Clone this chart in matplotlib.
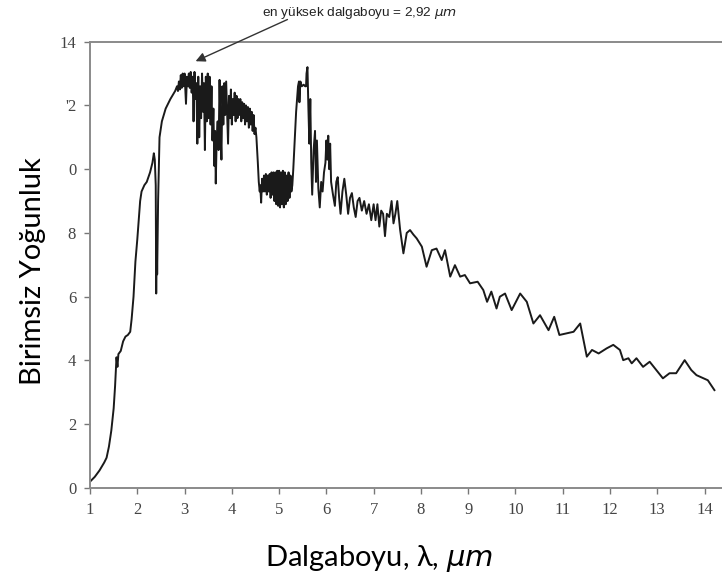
import matplotlib.pyplot as plt

# wavelength (um) and relative intensity
wavelength = [
    1.00, 1.10, 1.20, 1.30, 1.35, 1.40, 1.45, 1.50, 1.53, 1.56, 1.58, 1.60, 1.65, 1.70,
    1.75, 1.80, 1.85, 1.88, 1.92, 1.96, 2.00, 2.03, 2.06, 2.09, 2.15, 2.20, 2.27, 2.32,
    2.35, 2.37, 2.39, 2.40, 2.41, 2.42, 2.44, 2.47, 2.52, 2.60, 2.70, 2.80, 2.84, 2.86,
    2.88, 2.90, 2.92, 2.94, 2.96, 2.98, 3.00, 3.02, 3.03, 3.05, 3.07, 3.09, 3.11, 3.13,
    3.15, 3.17, 3.19, 3.21, 3.23, 3.25, 3.27, 3.29, 3.31, 3.33, 3.35, 3.37, 3.39, 3.41,
    3.43, 3.45, 3.47, 3.49, 3.51, 3.53, 3.55, 3.57, 3.59, 3.61, 3.63, 3.645, 3.66, 3.68,
    3.70, 3.72, 3.74, 3.76, 3.78, 3.80, 3.82, 3.84, 3.86, 3.88, 3.90, 3.92, 3.94, 3.96,
    3.98, 4.00, 4.02, 4.04, 4.06, 4.08, 4.10, 4.12, 4.14, 4.16, 4.18, 4.20, 4.22, 4.24,
    4.26, 4.28, 4.30, 4.32, 4.34, 4.36, 4.38, 4.40, 4.42, 4.44, 4.46, 4.48, 4.50, 4.52,
    4.55, 4.57, 4.59, 4.60, 4.62, 4.64, 4.66, 4.68, 4.70, 4.72, 4.74, 4.76, 4.78, 4.80,
    4.82, 4.84, 4.86, 4.88, 4.90, 4.92, 4.94, 4.96, 4.98, 5.00, 5.02, 5.04, 5.06, 5.08,
    5.10, 5.12, 5.14, 5.16, 5.18, 5.20, 5.22, 5.24, 5.26, 5.28, 5.30, 5.33, 5.36, 5.40,
    5.42, 5.43, 5.45, 5.48, 5.52, 5.55, 5.57, 5.58, 5.60, 5.62, 5.64, 5.66, 5.68, 5.70,
    5.73, 5.76, 5.78, 5.80, 5.83, 5.86, 5.89, 5.92, 5.95, 5.98, 6.00, 6.02, 6.04, 6.06,
    6.08, 6.10, 6.14, 6.18, 6.21, 6.24, 6.27, 6.30, 6.34, 6.38, 6.42, 6.46, 6.50, 6.54,
    6.58, 6.62, 6.66, 6.70, 6.75, 6.80, 6.85, 6.90, 6.95, 7.00, 7.04, 7.08, 7.12, 7.16,
    7.20, 7.24, 7.28, 7.33, 7.38, 7.42, 7.46, 7.50, 7.56, 7.63, 7.70, 7.77, 7.84, 7.91,
    8.02, 8.12, 8.23, 8.33, 8.44, 8.51, 8.62, 8.72, 8.83, 8.93, 9.04, 9.20, 9.32, 9.40,
    9.49, 9.60, 9.67, 9.78, 9.92, 10.10, 10.24, 10.38, 10.52, 10.70, 10.82, 10.93, 11.23,
    11.37, 11.51, 11.62, 11.76, 11.93, 12.07, 12.21, 12.28, 12.39, 12.46, 12.56, 12.70,
    12.84, 13.12, 13.26, 13.40, 13.58, 13.72, 13.83, 14.07, 14.21,
]
intensity = [
    0.20, 0.35, 0.55, 0.80, 0.95, 1.30, 1.80, 2.50, 3.20, 4.10, 3.80, 4.20, 4.30, 4.60,
    4.75, 4.80, 4.90, 5.30, 6.00, 7.10, 7.80, 8.40, 9.00, 9.30, 9.50, 9.60, 9.90, 10.20,
    10.50, 10.30, 9.50, 6.10, 8.10, 6.70, 9.00, 11.00, 11.50, 11.90, 12.20, 12.45, 12.60, 12.45,
    12.75, 12.50, 12.95, 12.55, 13.00, 12.60, 13.00, 12.40, 12.05, 12.90, 12.60, 13.00, 12.55, 13.05,
    12.40, 12.90, 11.50, 13.05, 12.20, 12.70, 10.80, 12.90, 11.00, 12.60, 11.60, 13.00, 11.80, 12.70,
    10.60, 12.90, 11.50, 13.00, 11.60, 12.90, 11.40, 12.60, 10.90, 11.90, 10.10, 11.20, 9.55, 11.00,
    11.50, 10.60, 12.80, 11.30, 10.30, 12.60, 11.40, 12.70, 11.70, 12.75, 11.80, 10.80, 12.30, 11.60,
    12.50, 11.40, 12.20, 11.70, 12.40, 11.50, 12.30, 11.60, 12.20, 11.70, 12.20, 11.50, 12.10, 11.60,
    12.05, 11.40, 12.00, 11.50, 11.95, 11.30, 11.90, 11.40, 11.80, 11.20, 11.70, 11.10, 11.30, 11.00,
    10.20, 9.60, 9.30, 9.50, 8.95, 9.70, 9.30, 9.80, 9.30, 9.85, 9.20, 9.80, 9.30, 9.85,
    9.10, 9.90, 9.20, 9.90, 9.00, 9.90, 8.90, 9.95, 8.85, 9.95, 8.80, 9.90, 8.90, 9.95,
    8.80, 9.90, 8.90, 9.80, 9.00, 9.90, 9.10, 9.80, 9.30, 9.50, 10.00, 10.90, 11.80, 12.60,
    12.75, 12.10, 12.75, 12.60, 12.65, 12.60, 12.60, 13.00, 13.20, 11.90, 10.80, 12.20, 10.20, 9.20,
    10.60, 11.20, 9.60, 10.90, 9.40, 8.80, 9.60, 9.30, 9.90, 10.20, 10.90, 10.30, 11.05, 10.00,
    10.80, 9.60, 9.20, 8.85, 9.60, 9.75, 9.10, 8.60, 9.30, 9.70, 9.20, 8.60, 9.10, 9.25,
    8.80, 8.50, 9.00, 9.10, 8.70, 9.00, 8.60, 8.90, 8.40, 8.90, 8.40, 8.90, 8.20, 8.70,
    8.60, 7.90, 8.60, 8.50, 9.00, 8.30, 8.60, 9.00, 8.10, 7.36, 8.00, 8.09, 7.95, 7.83,
    7.57, 6.94, 7.46, 7.51, 7.15, 7.46, 6.63, 6.99, 6.63, 6.68, 6.42, 6.47, 6.21, 5.84,
    6.16, 5.63, 6.00, 6.10, 5.58, 6.10, 5.84, 5.16, 5.42, 4.95, 5.37, 4.80, 4.90,
    5.16, 4.12, 4.33, 4.22, 4.38, 4.49, 4.33, 4.01, 4.07, 3.91, 4.07, 3.80,
    3.96, 3.44, 3.60, 3.60, 4.01, 3.70, 3.54, 3.38, 3.07,
]

y_ticks = [0, 2, 4, 6, 8, 10, 12, 14]
y_tick_labels = ['0', '2', '4', '6', '8', '0', "'2", '14']
x_ticks = list(range(1, 15))

fig = plt.figure(figsize=(7.22, 5.8), dpi=100)
ax = fig.add_axes([0.1247, 0.1586, 0.8753, 0.7696])

ax.plot(wavelength, intensity, color='#1a1a1a', lw=1.4)

ax.set_xlim(1, 14.37)
ax.set_ylim(0, 14)

ax.set_xticks(x_ticks)
ax.set_xticklabels([str(t) for t in x_ticks], family='Liberation Serif', fontsize=12, color='#444444')
ax.set_yticks(y_ticks)
ax.set_yticklabels(y_tick_labels, family='Liberation Serif', fontsize=12, color='#444444')
ax.tick_params(direction='out', length=4, width=1, color='#777777')
ax.tick_params(axis='x', pad=6)
ax.tick_params(axis='y', pad=6)

for side in ['left', 'top', 'bottom']:
    ax.spines[side].set_color('#8a8a8a')
    ax.spines[side].set_linewidth(1.4)
ax.spines['right'].set_visible(False)

ax.set_xlabel(r'Dalgaboyu, λ, $\mu m$', family='Lato', fontsize=21, labelpad=18)
ax.xaxis.label.set_x(0.457)
ax.set_ylabel('Birimsiz Yoğunluk', family='Lato', fontsize=21, labelpad=10)
ax.yaxis.label.set_y(0.485)

# peak annotation
ax.annotate('', xy=(3.18, 13.35), xytext=(5.23, 14.73), annotation_clip=False,
            arrowprops=dict(arrowstyle='-|>', color='#333333', lw=1.0, mutation_scale=14))
ax.text(4.64, 14.9, r'en yüksek dalgaboyu = 2,92 $\mu m$', family='Liberation Sans',
        fontsize=9.7, color='#222222', va='center', ha='left', clip_on=False)

plt.savefig('out.png', dpi=100)
